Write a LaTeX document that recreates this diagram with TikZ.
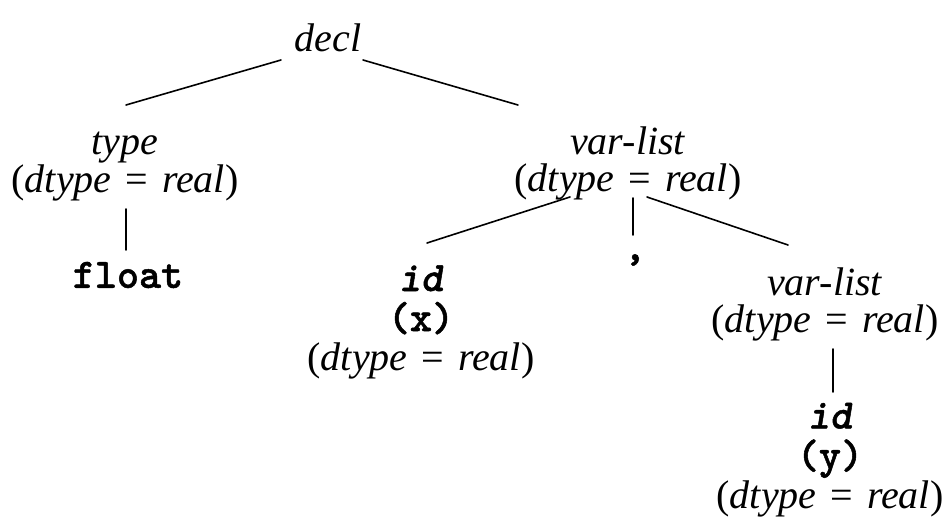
\documentclass[tikz,border=0pt]{standalone}
\usepackage{fontspec}
\setmainfont{Liberation Serif}
\newfontfamily\cwfont{lmmonolt10-bold.otf}[FakeBold=1.2]
\newfontfamily\cwifont{lmmonolt10-boldoblique.otf}[FakeBold=1.2]
\usetikzlibrary{calc}
\newcommand{\dt}{\textup{(}\textit{dtype}\hspace{0.35em}\textup{=}\hspace{0.35em}\textit{real}\textup{)}}
\newcommand{\cw}[1]{{\cwfont\fontsize{42}{38}\selectfont #1}}
\newcommand{\cwi}[1]{{\cwifont\fontsize{42}{38}\selectfont #1}}
\tikzset{
  lbl/.style={inner sep=0pt, align=center, font=\fontsize{40}{37}\selectfont},
  edge/.style={line width=1.6pt, line cap=round}
}
\begin{document}
\begin{tikzpicture}[x=1pt,y=-1pt]
\useasboundingbox (0,0) rectangle (948,518);
\node[lbl] (decl) at (328,38) {\textit{decl}};
\node[lbl] (type) at (125,167) {\textit{type}\\[1pt]\dt};
\node[lbl] (float) at (128,275) {\cw{float}};
\node[lbl] (vl1) at (628,163) {\textit{var-list}\\\dt};
\node[lbl] (idx) at (421,322) {\cwi{id}\\[3pt]\cw{(x)}\\[2pt]\dt};
\node[lbl] (comma) at (635,260) {\cw{,}};
\node[lbl] (vl2) at (825,304) {\textit{var-list}\\\dt};
\node[lbl] (idy) at (830,460) {\cwi{id}\\[3pt]\cw{(y)}\\[2pt]\dt};
\draw[edge] ($(decl)+(-47,22)$) -- ($(type)+(1,-62)$);
\draw[edge] ($(decl)+(35,22)$) -- ($(vl1)+(-110,-58)$);
\draw[edge] ($(type)+(1,42)$) -- ($(float)+(-2,-25)$);
\draw[edge] ($(vl1)+(-58,34)$) -- ($(idx)+(6,-79)$);
\draw[edge] ($(vl1)+(5,35)$) -- ($(comma)+(-2,-25)$);
\draw[edge] ($(vl1)+(19,34)$) -- ($(vl2)+(-37,-59)$);
\draw[edge] ($(vl2)+(8,45)$) -- ($(idy)+(3,-68)$);
\end{tikzpicture}
\end{document}
